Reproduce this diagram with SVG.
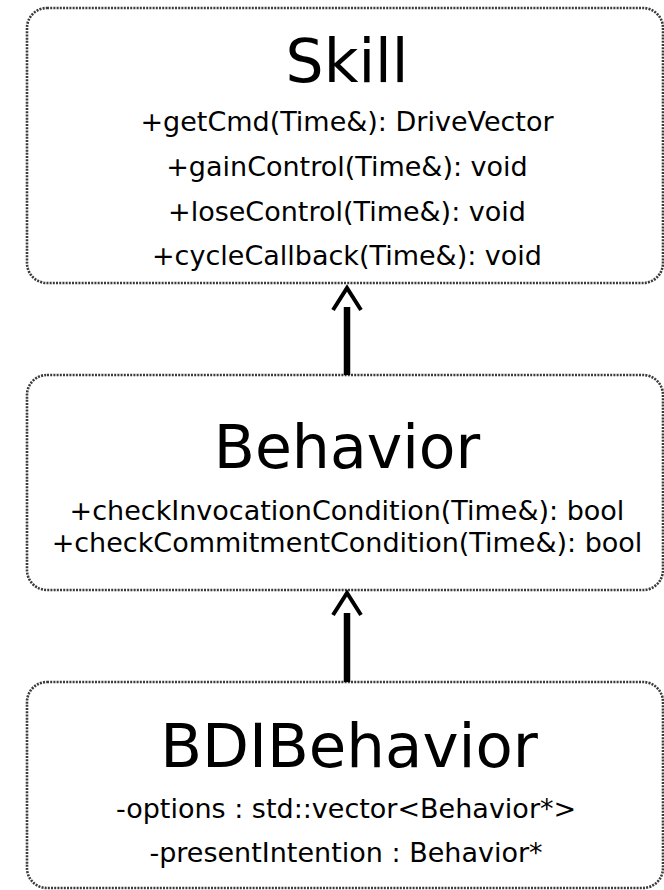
<svg xmlns="http://www.w3.org/2000/svg" width="664" height="890" viewBox="0 0 664 890">
<style>
.box{fill:#fff;stroke:#3a3a3a;stroke-width:2.6;stroke-dasharray:2 1.2}
.title{font-family:"DejaVu Sans",sans-serif;font-size:60px;fill:#000;text-anchor:middle}
.mem{font-family:"DejaVu Sans",sans-serif;font-size:27px;fill:#000;text-anchor:middle}
.shaft{stroke:#000;stroke-width:6.5;fill:none}
.head{stroke:#000;stroke-width:4;fill:none;stroke-linejoin:miter}
</style>
<rect width="664" height="890" fill="#fff"/>
<g id="skill">
<rect class="box" x="27" y="8" width="636" height="275" rx="20"/>
<text class="title" x="347" y="82">Skill</text>
<text class="mem" x="347" y="131">+getCmd(Time&amp;): DriveVector</text>
<text class="mem" x="347" y="176">+gainControl(Time&amp;): void</text>
<text class="mem" x="347" y="221">+loseControl(Time&amp;): void</text>
<text class="mem" x="347" y="265">+cycleCallback(Time&amp;): void</text>
</g>
<g id="behavior">
<rect class="box" x="27" y="375" width="636" height="215" rx="20"/>
<text class="title" x="347" y="468">Behavior</text>
<text class="mem" x="347" y="520">+checkInvocationCondition(Time&amp;): bool</text>
<text class="mem" x="347" y="552">+checkCommitmentCondition(Time&amp;): bool</text>
</g>
<g id="bdibehavior">
<rect class="box" x="27" y="682" width="636" height="206" rx="20"/>
<text class="title" x="349" y="767" style="font-size:61px">BDIBehavior</text>
<text class="mem" x="346" y="818">-options : std::vector&lt;Behavior*&gt;</text>
<text class="mem" x="346" y="862">-presentIntention : Behavior*</text>
</g>
<g id="connectors">
<line class="shaft" x1="347" y1="307" x2="347" y2="375"/>
<polyline class="head" points="333,310 347,288 361,310"/>
<line class="shaft" x1="347" y1="613" x2="347" y2="682"/>
<polyline class="head" points="333,615 347,593 361,615"/>
</g>
</svg>
